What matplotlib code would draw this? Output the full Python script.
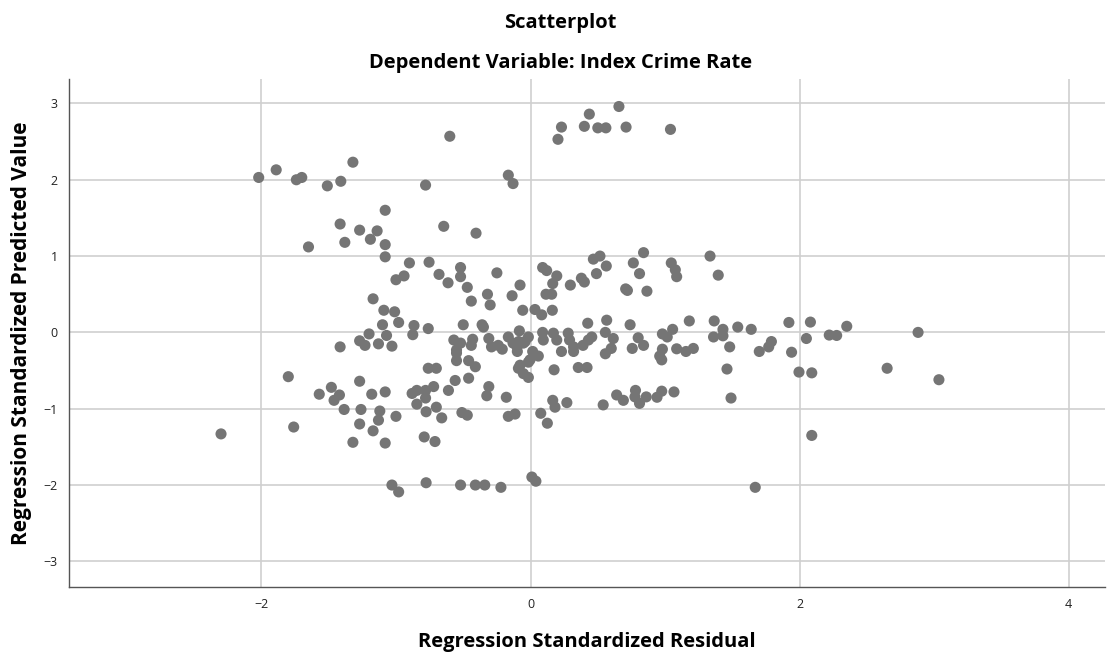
"""SPSS-style residual scatterplot: predicted vs residual (Index Crime Rate)."""
import matplotlib
matplotlib.use('Agg')
import matplotlib.pyplot as plt

# points, grouped by region
resid_top = [-2.02, -1.89, -1.74, -1.70, -1.51, -1.41, -1.32,
             -1.08, -1.415, -1.27, -1.14, -1.19, -1.38, -1.08, -1.65, -1.08,
             -1.00, -0.94, -1.17, -1.09, -1.01, -1.10, -0.98, -1.20, -1.07,
             -1.27, -1.23, -1.13, -1.03, -1.415]
pred_top = [2.03, 2.13, 2.00, 2.03, 1.92, 1.98, 2.23,
            1.60, 1.42, 1.34, 1.33, 1.22, 1.18, 1.15, 1.12, 0.99,
            0.69, 0.74, 0.44, 0.29, 0.27, 0.10, 0.13, -0.02, -0.04,
            -0.11, -0.17, -0.15, -0.18, -0.19]

resid_mid = [0.657, 0.437, 0.23, 0.204, 0.40, 0.50, 0.56, 0.71, 1.04, -0.60,
             -0.165, -0.13, -0.78, -0.645, -0.405,
             -0.90, -0.754, -0.68, -0.613, -0.52, -0.52, -0.47, -0.44, -0.25,
             -0.32, -0.30, -0.137, -0.078, -0.058,
             0.09, 0.12, 0.195, 0.165, 0.115, 0.157, 0.033, 0.083, 0.162,
             0.296, 0.378, 0.40, 0.467, 0.516, 0.49, 0.563, 0.707, 0.72,
             0.764, 0.81, 0.865, 0.84, 1.046, 1.076, 1.086, 1.334, 1.395]
pred_mid = [2.96, 2.86, 2.69, 2.53, 2.70, 2.68, 2.68, 2.69, 2.66, 2.57,
            2.06, 1.95, 1.93, 1.39, 1.30,
            0.91, 0.92, 0.76, 0.65, 0.85, 0.73, 0.59, 0.41, 0.78,
            0.50, 0.36, 0.48, 0.62, 0.29,
            0.85, 0.81, 0.74, 0.64, 0.50, 0.50, 0.30, 0.23, 0.29,
            0.62, 0.71, 0.66, 0.96, 1.00, 0.77, 0.87, 0.57, 0.55,
            0.91, 0.77, 0.54, 1.045, 0.91, 0.82, 0.73, 1.00, 0.75]

resid_zero = [-0.866, -0.875, -0.76, -0.50, -0.36, -0.35, -0.57, -0.52, -0.44,
              -0.43, -0.31, -0.29, -0.24, -0.21, -0.165, -0.13, -0.083, -0.04,
              -0.10, -0.55, -0.088, -0.098, -0.053, -0.016,
              0.09, 0.095, 0.17, 0.195, 0.23, 0.28, 0.29, 0.32, 0.32, 0.39,
              0.43, 0.455, 0.425, 0.566, 0.556, 0.615, 0.60, 0.556, 0.74, 0.80,
              0.84, 0.756, 0.98, 1.016, 1.056, 0.98, 0.96, 0.975, 1.086, 1.18,
              1.155, 1.21, 1.365, 1.43, 1.36, 1.43, 1.48, 1.54, 1.64, 1.70,
              1.77, 1.79,
              1.92, 1.94, 2.05, 2.08, 2.22, 2.275, 2.35, 2.88,
              0.016, 0.058, -0.078, -0.016, -0.053, -0.016, -0.004, -0.09,
              0.175, 0.355, 0.42,
              -0.55, -0.55, -0.46, -0.41, -0.46, -0.56, -0.61, -0.76, -0.70]
pred_zero = [0.09, -0.03, 0.05, 0.10, 0.10, 0.07, -0.10, -0.14, -0.17,
             -0.09, -0.08, -0.19, -0.17, -0.22, -0.06, -0.14, 0.02, -0.12,
             -0.19, -0.23, -0.12, -0.25, -0.14, -0.06,
             0.00, -0.10, -0.01, -0.10, -0.25, -0.01, -0.10, -0.19, -0.25, -0.17,
             -0.10, -0.06, 0.12, 0.16, 0.00, -0.08, -0.21, -0.28, 0.10, -0.07,
             -0.17, -0.21, -0.02, -0.06, 0.04, -0.22, -0.31, -0.36, -0.215, 0.15,
             -0.25, -0.21, 0.15, 0.04, -0.06, -0.045, -0.19, 0.07, 0.04, -0.25,
             -0.19, -0.12,
             0.13, -0.26, -0.08, 0.135, -0.035, -0.04, 0.08, 0.00,
             -0.25, -0.31, -0.43, -0.39, -0.54, -0.59, -0.36, -0.47,
             -0.49, -0.46, -0.46,
             -0.27, -0.37, -0.37, -0.45, -0.60, -0.63, -0.76, -0.47, -0.47]

resid_low = [-2.30, -1.80, -1.76, -1.27, -1.48, -1.57, -1.42, -1.46, -1.385,
             -1.18, -1.08, -1.26, -1.12, -1.13, -1.27, -1.17, -1.00, -1.32,
             -1.08,
             -0.88, -0.845, -0.78, -0.72, -0.78, -0.845, -0.776, -0.70, -0.66,
             -0.51, -0.47, -0.79, -0.71,
             -1.03, -0.98, -0.776, -0.52, -0.41, -0.34, -0.22, 0.01, 0.04,
             -0.31, -0.325, -0.18, -0.165, -0.115,
             0.165, 0.182, 0.27, 0.076, 0.125, 0.54, 0.64, 0.69, 0.78, 0.776,
             0.81, 0.86, 0.94, 0.975, 1.066,
             1.46, 1.49, 1.995, 2.09, 2.09, 1.67, 2.65, 3.035]
pred_low = [-1.33, -0.58, -1.24, -0.64, -0.72, -0.81, -0.82, -0.89, -1.01,
            -0.81, -0.78, -1.01, -1.03, -1.15, -1.20, -1.29, -1.10, -1.44,
            -1.45,
            -0.80, -0.76, -0.76, -0.71, -0.86, -0.94, -1.04, -0.98, -1.12,
            -1.05, -1.085, -1.37, -1.43,
            -2.00, -2.09, -1.97, -2.00, -2.00, -2.00, -2.03, -1.895, -1.95,
            -0.71, -0.83, -0.85, -1.10, -1.07,
            -0.89, -0.98, -0.92, -1.06, -1.19, -0.95, -0.82, -0.89, -0.76, -0.845,
            -0.93, -0.845, -0.85, -0.77, -0.78,
            -0.48, -0.86, -0.52, -0.53, -1.35, -2.03, -0.47, -0.62]

xticks = [-2, 0, 2, 4]
yticks = [-3, -2, -1, 0, 1, 2, 3]

FONT = 'Open Sans'


def main():
	resid = resid_top + resid_mid + resid_zero + resid_low
	pred = pred_top + pred_mid + pred_zero + pred_low

	fig = plt.figure(figsize=(11.07, 6.53), dpi=100)
	ax = fig.add_axes([0.0623, 0.1006, 0.936, 0.7784])

	ax.scatter(resid, pred, s=64, color='#757575', edgecolors='none', zorder=3)

	ax.set_xlim(-3.43, 4.27)
	ax.set_ylim(-3.34, 3.32)
	ax.set_xticks(xticks)
	ax.set_yticks(yticks)
	ax.set_xticklabels(['\u22122', '0', '2', '4'], fontsize=9, family=FONT)
	ax.set_yticklabels(['\u22123', '\u22122', '\u22121', '0', '1', '2', '3'],
	                   fontsize=9, family=FONT)
	ax.tick_params(length=0, pad=8, colors='#222222')

	ax.grid(True, color='#cfcfcf', linewidth=1.2, zorder=0)
	ax.set_axisbelow(True)
	for side in ('top', 'right'):
		ax.spines[side].set_visible(False)
	for side in ('left', 'bottom'):
		ax.spines[side].set_color('#555555')
		ax.spines[side].set_linewidth(1.0)

	ax.set_xlabel('Regression Standardized Residual', fontsize=14.5,
	              fontweight='bold', family=FONT, labelpad=15)
	ax.set_ylabel('Regression Standardized Predicted Value', fontsize=15,
	              fontweight='bold', family=FONT, labelpad=8)

	fig.text(0.506, 0.965, 'Scatterplot', ha='center', va='center',
	         fontsize=14.5, fontweight='bold', family=FONT)
	fig.text(0.506, 0.903, 'Dependent Variable: Index Crime Rate', ha='center',
	         va='center', fontsize=14.5, fontweight='bold', family=FONT)

	fig.savefig('out.png', dpi=100)


if __name__ == '__main__':
	main()
